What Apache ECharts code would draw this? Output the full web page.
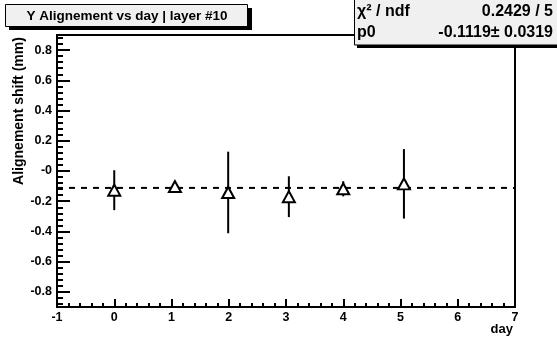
<!DOCTYPE html>
<html>
<head>
<meta charset="utf-8">
<script src="https://cdn.jsdelivr.net/npm/echarts@6/dist/echarts.min.js"></script>
<style>
html,body{margin:0;padding:0;background:#fff;}
#c{width:557px;height:337px;}
</style>
</head>
<body>
<div id="c"></div>
<script>
// ---- data ----
var days   = [0.0, 1.06, 1.99, 3.05, 4.0, 5.06];
var shift  = [-0.127, -0.103, -0.142, -0.170, -0.118, -0.085];
var errors = [0.132, 0.025, 0.270, 0.135, 0.050, 0.230];
var fitP0 = -0.1119;
var xRange = [-1, 7];
var yRange = [-0.9, 0.9];
var yTickValues = [-0.8, -0.6, -0.4, -0.2, 0, 0.2, 0.4, 0.6, 0.8];
var yTickLabels = ['-0.8', '-0.6', '-0.4', '-0.2', '-0', '0.2', '0.4', '0.6', '0.8'];
var xTickLabels = ['-1', '0', '1', '2', '3', '4', '5', '6', '7'];
var titleText = 'Y Alignement vs day | layer #10';
var statsRows = [['χ² / ndf', '0.2429 / 5'], ['p0', '-0.1119± 0.0319']];

var yMinorValues = [];
for (var k = -22; k <= 22; k++) { yMinorValues.push(Math.round(k * 4) / 100); }

var FONT = '"Liberation Sans", Arial, Helvetica, sans-serif';
var pts = days.map(function (d, i) { return [d, shift[i], errors[i]]; });

var chart = echarts.init(document.getElementById('c'), null, {renderer: 'canvas'});
chart.setOption({
  animation: false,
  backgroundColor: '#ffffff',
  grid: {left: 57, right: 42, top: 35, bottom: 30, show: true, borderColor: '#000', borderWidth: 2, backgroundColor: 'transparent'},
  xAxis: {
    type: 'value', min: xRange[0], max: xRange[1], interval: 1,
    axisLine: {show: true, onZero: false, lineStyle: {color: '#000', width: 2}},
    axisTick: {show: true, inside: true, length: 8, lineStyle: {color: '#000', width: 2}},
    minorTick: {show: true, splitNumber: 5, length: 4, lineStyle: {color: '#000', width: 2}},
    splitLine: {show: false},
    axisLabel: {color: '#000', fontFamily: FONT, fontWeight: 'bold', fontSize: 12.5, margin: 4,
      formatter: function (v) { var i = Math.round(v - xRange[0]); return xTickLabels[i] !== undefined ? xTickLabels[i] : ''; }}
  },
  yAxis: [{
    type: 'value', min: yRange[0], max: yRange[1],
    axisLine: {show: true, onZero: false, lineStyle: {color: '#000', width: 2}},
    axisTick: {show: true, inside: true, length: 13, customValues: yTickValues, lineStyle: {color: '#000', width: 2}},
    splitLine: {show: false},
    axisLabel: {color: '#000', fontFamily: FONT, fontWeight: 'bold', fontSize: 12.5, margin: 5,
      customValues: yTickValues,
      formatter: function (v) {
        for (var i = 0; i < yTickValues.length; i++) { if (Math.abs(yTickValues[i] - v) < 1e-6) return yTickLabels[i]; }
        return '';
      }}
  }, {
    type: 'value', min: yRange[0], max: yRange[1], position: 'left',
    axisLine: {show: false, onZero: false},
    axisTick: {show: true, inside: true, length: 6, customValues: yMinorValues, lineStyle: {color: '#000', width: 2}},
    splitLine: {show: false},
    axisLabel: {show: false}
  }],
  series: [{
    type: 'line', data: [[xRange[0], fitP0], [xRange[1], fitP0]],
    symbol: 'none', lineStyle: {color: '#000', width: 2, type: [6, 6]}, z: 1
  }, {
    type: 'custom', data: pts, z: 2,
    renderItem: function (params, api) {
      var x = api.value(0), y = api.value(1), e = api.value(2);
      var p1 = api.coord([x, y + e]), p2 = api.coord([x, y - e]);
      return {type: 'line', shape: {x1: p1[0], y1: p1[1], x2: p2[0], y2: p2[1]},
        style: {stroke: '#000', lineWidth: 2}};
    }
  }, {
    type: 'scatter', data: pts, z: 3,
    symbol: 'triangle', symbolSize: [12, 11],
    itemStyle: {color: '#fff', borderColor: '#000', borderWidth: 2, opacity: 1}
  }],
  graphic: [
    {type: 'rect', shape: {x: 9, y: 8, width: 243, height: 22}, style: {fill: '#000'}, z: 10},
    {type: 'rect', shape: {x: 5.5, y: 4.5, width: 242, height: 22}, style: {fill: '#f0f0f0', stroke: '#000', lineWidth: 1}, z: 11},
    {type: 'text', x: 127, y: 16, style: {text: titleText, fill: '#000', font: 'bold 13.5px ' + FONT, align: 'center', verticalAlign: 'middle'}, z: 12},
    {type: 'rect', shape: {x: 357, y: 0, width: 210, height: 48}, style: {fill: '#000'}, z: 10},
    {type: 'rect', shape: {x: 354.5, y: -2, width: 210, height: 47}, style: {fill: '#f0f0f0', stroke: '#000', lineWidth: 1}, z: 11},
    {type: 'text', x: 357, y: 12, style: {text: statsRows[0][0], fill: '#000', font: 'bold 16px ' + FONT, align: 'left', verticalAlign: 'middle'}, z: 12},
    {type: 'text', x: 553, y: 12, style: {text: statsRows[0][1], fill: '#000', font: 'bold 16px ' + FONT, align: 'right', verticalAlign: 'middle'}, z: 12},
    {type: 'text', x: 357, y: 33, style: {text: statsRows[1][0], fill: '#000', font: 'bold 16px ' + FONT, align: 'left', verticalAlign: 'middle'}, z: 12},
    {type: 'text', x: 553, y: 33, style: {text: statsRows[1][1], fill: '#000', font: 'bold 16px ' + FONT, align: 'right', verticalAlign: 'middle'}, z: 12},
    {type: 'text', x: 19, y: 111, rotation: Math.PI / 2, style: {text: 'Alignement shift (mm)', fill: '#000', font: 'bold 14px ' + FONT, align: 'center', verticalAlign: 'middle'}, z: 12},
    {type: 'text', x: 513, y: 329, style: {text: 'day', fill: '#000', font: 'bold 13px ' + FONT, align: 'right', verticalAlign: 'middle'}, z: 12}
  ]
});
</script>
</body>
</html>
